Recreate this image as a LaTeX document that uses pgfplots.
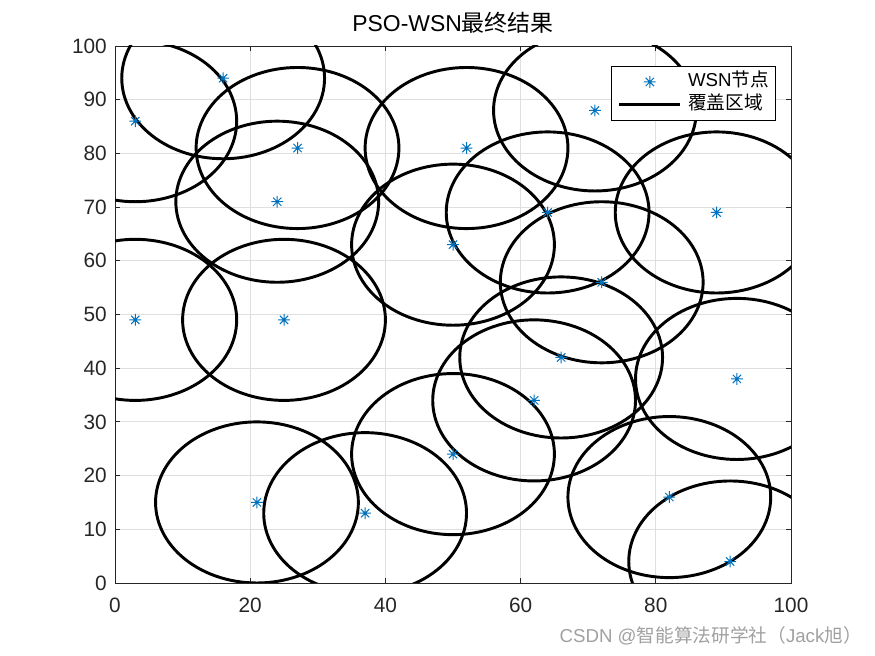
\documentclass[border=0pt]{standalone}
\usepackage{fontspec}
\setmainfont{Liberation Sans}
\newfontfamily\cjk{Noto Sans CJK SC}
\usepackage{pgfplots}
\usepackage{pgfplotstable}
\pgfplotsset{compat=1.18}
\definecolor{mblue}{RGB}{0,114,189}
\definecolor{axgray}{RGB}{38,38,38}
\definecolor{gridgray}{RGB}{223,223,223}
\definecolor{wmgray}{RGB}{160,160,160}
\pgfdeclareplotmark{mstar}{%
  \pgfpathmoveto{\pgfqpoint{-\pgfplotmarksize}{0pt}}\pgfpathlineto{\pgfqpoint{\pgfplotmarksize}{0pt}}%
  \pgfpathmoveto{\pgfqpoint{0pt}{-\pgfplotmarksize}}\pgfpathlineto{\pgfqpoint{0pt}{\pgfplotmarksize}}%
  \pgfpathmoveto{\pgfqpoint{-0.707\pgfplotmarksize}{-0.707\pgfplotmarksize}}\pgfpathlineto{\pgfqpoint{0.707\pgfplotmarksize}{0.707\pgfplotmarksize}}%
  \pgfpathmoveto{\pgfqpoint{-0.707\pgfplotmarksize}{0.707\pgfplotmarksize}}\pgfpathlineto{\pgfqpoint{0.707\pgfplotmarksize}{-0.707\pgfplotmarksize}}%
  \pgfusepathqstroke}
\pgfplotstableread{
x y
3 86
16 94
27 81
24 71
52 81
71 88
64 69
50 63
89 69
72 56
3 49
25 49
66 42
92 38
62 34
50 24
82 16
21 15
37 13
91 4
}\nodesdata
\begin{document}
\begin{tikzpicture}
\path[use as bounding box] (-86.25pt,-54.75pt) rectangle (570pt,437.25pt);
\begin{axis}[
  at={(0,0)}, anchor=south west,
  scale only axis, width=507pt, height=402.75pt,
  xmin=0, xmax=100, ymin=0, ymax=100,
  xtick={0,20,...,100}, ytick={0,10,...,100},
  /pgf/number format/assume math mode=true,
  grid=major,
  major grid style={color=gridgray, line width=0.6pt},
  axis line style={color=axgray, line width=0.7pt},
  tick style={color=axgray, line width=0.7pt},
  major tick length=4pt,
  tick align=inside,
  ticklabel style={font=\fontsize{15.6}{18}\selectfont, text=axgray},
  xticklabel style={anchor=base, inner sep=0pt, yshift=-22.5pt},
  yticklabel style={anchor=east, inner sep=0pt, xshift=-6pt},
  title={PSO-WSN{\cjk 最终结果}},
  title style={at={(0.5,1)}, anchor=base, inner sep=0pt, yshift=5pt, font=\fontsize{17.2}{20}\selectfont, text=black},
  legend style={at={(0.9778,0.9628)}, anchor=north east, draw=black, line width=0.6pt,
    font=\fontsize{14}{16}\selectfont, inner xsep=5pt, inner ysep=4.8pt,
    nodes={inner sep=0pt, text height=10.5pt, text depth=3.3pt},
    row sep=3pt},
  legend cell align=left,
  legend image code/.code={%
    \draw[mark repeat=2, mark phase=2, #1] plot coordinates {(0pt,0pt) (22.9pt,0pt) (45.75pt,0pt)};
    \path (50.5pt,0pt);},
]
\addplot[only marks, mark=mstar, mark size=4.4pt, color=mblue, mark options={line width=0.75pt}] table[x=x, y=y] {\nodesdata};
\addlegendentry{WSN{\cjk 节点}}
\addplot[black, line width=2.2pt, domain=0:360, samples=121] ({3+15*cos(x)},{86+15*sin(x)});
\addlegendentry{{\cjk 覆盖区域}}
\addplot[black, line width=2.2pt, domain=0:360, samples=121, forget plot] ({16+15*cos(x)},{94+15*sin(x)});
\addplot[black, line width=2.2pt, domain=0:360, samples=121, forget plot] ({27+15*cos(x)},{81+15*sin(x)});
\addplot[black, line width=2.2pt, domain=0:360, samples=121, forget plot] ({24+15*cos(x)},{71+15*sin(x)});
\addplot[black, line width=2.2pt, domain=0:360, samples=121, forget plot] ({52+15*cos(x)},{81+15*sin(x)});
\addplot[black, line width=2.2pt, domain=0:360, samples=121, forget plot] ({71+15*cos(x)},{88+15*sin(x)});
\addplot[black, line width=2.2pt, domain=0:360, samples=121, forget plot] ({64+15*cos(x)},{69+15*sin(x)});
\addplot[black, line width=2.2pt, domain=0:360, samples=121, forget plot] ({50+15*cos(x)},{63+15*sin(x)});
\addplot[black, line width=2.2pt, domain=0:360, samples=121, forget plot] ({89+15*cos(x)},{69+15*sin(x)});
\addplot[black, line width=2.2pt, domain=0:360, samples=121, forget plot] ({72+15*cos(x)},{56+15*sin(x)});
\addplot[black, line width=2.2pt, domain=0:360, samples=121, forget plot] ({3+15*cos(x)},{49+15*sin(x)});
\addplot[black, line width=2.2pt, domain=0:360, samples=121, forget plot] ({25+15*cos(x)},{49+15*sin(x)});
\addplot[black, line width=2.2pt, domain=0:360, samples=121, forget plot] ({66+15*cos(x)},{42+15*sin(x)});
\addplot[black, line width=2.2pt, domain=0:360, samples=121, forget plot] ({92+15*cos(x)},{38+15*sin(x)});
\addplot[black, line width=2.2pt, domain=0:360, samples=121, forget plot] ({62+15*cos(x)},{34+15*sin(x)});
\addplot[black, line width=2.2pt, domain=0:360, samples=121, forget plot] ({50+15*cos(x)},{24+15*sin(x)});
\addplot[black, line width=2.2pt, domain=0:360, samples=121, forget plot] ({82+15*cos(x)},{16+15*sin(x)});
\addplot[black, line width=2.2pt, domain=0:360, samples=121, forget plot] ({21+15*cos(x)},{15+15*sin(x)});
\addplot[black, line width=2.2pt, domain=0:360, samples=121, forget plot] ({37+15*cos(x)},{13+15*sin(x)});
\addplot[black, line width=2.2pt, domain=0:360, samples=121, forget plot] ({91+15*cos(x)},{4+15*sin(x)});
\end{axis}
\node[anchor=east, inner sep=0pt, text=wmgray, font=\fontsize{14}{16}\selectfont] at (560.25pt,-39.75pt) {CSDN @{\cjk 智能算法研学社（}Jack{\cjk 旭）}};
\end{tikzpicture}
\end{document}
